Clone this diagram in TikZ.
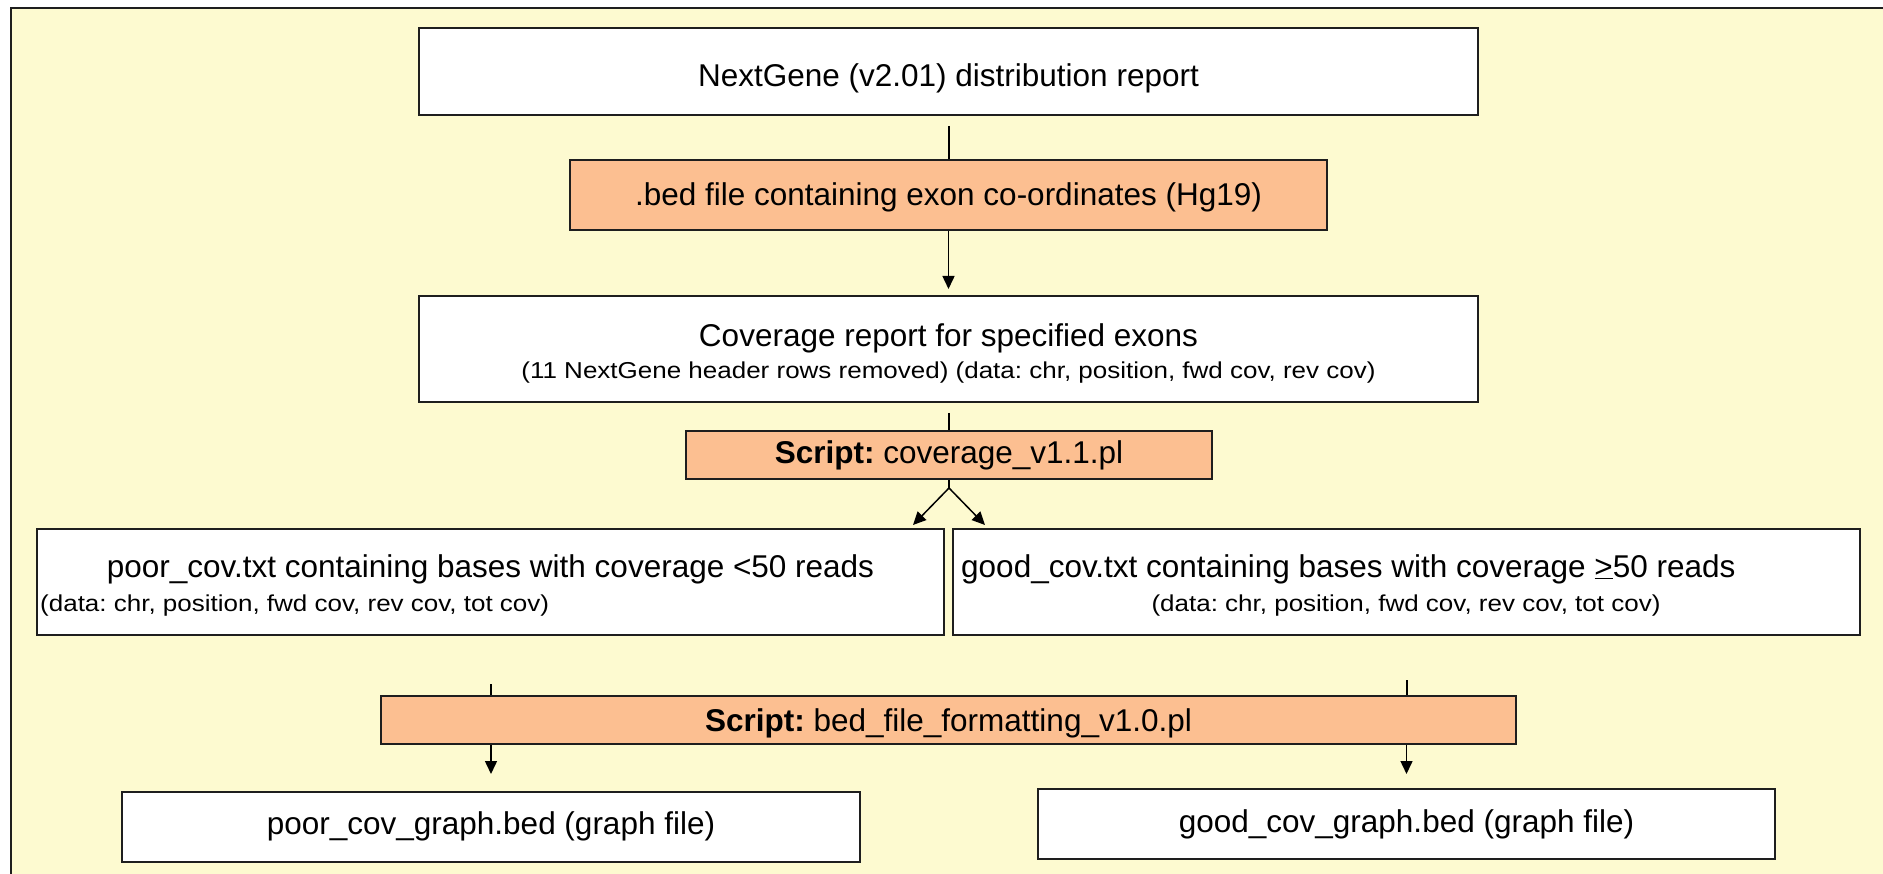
\documentclass[tikz,border=0pt]{standalone}
\usepackage{fontspec}
\setmainfont{Liberation Sans}
\newfontfamily\widesans[FakeStretch=1.13]{Liberation Sans}
\usetikzlibrary{arrows.meta}
\definecolor{bgyellow}{RGB}{253,250,208}
\definecolor{orangefill}{RGB}{252,191,145}
\definecolor{edgegray}{RGB}{30,30,30}
\frenchspacing
\begin{document}
\begin{tikzpicture}[x=1pt,y=-1pt,
  box/.style={draw=edgegray, line width=2pt, fill=white, inner sep=0pt, anchor=center},
  orangebox/.style={box, fill=orangefill},
  big/.style={font=\fontsize{31.5}{37}\selectfont},
  small/.style={font=\widesans\fontsize{23}{27}\selectfont},
  txt/.style={inner sep=0pt, anchor=base},
  conn/.style={draw=black, line width=1.5pt},
  arr/.style={conn, -{Triangle[length=13pt,width=12pt]}}]
\useasboundingbox (0,0) rectangle (1883,874);
\fill[white] (0,0) rectangle (1883,874);
\draw[fill=bgyellow, draw=edgegray, line width=2pt] (11,8) rectangle (1900,900);

% boxes
\node[box, minimum width=1059pt, minimum height=87pt] (n1) at (948.5,71.5) {};
\node[orangebox, minimum width=757pt, minimum height=70pt] (bed) at (948.5,195) {};
\node[box, minimum width=1059pt, minimum height=106pt] (cov) at (948.5,349) {};
\node[orangebox, minimum width=526pt, minimum height=48pt] (s1) at (949,455) {};
\node[box, minimum width=907pt, minimum height=106pt] (poor) at (490.5,582) {};
\node[box, minimum width=907pt, minimum height=106pt] (good) at (1406.5,582) {};
\node[orangebox, minimum width=1135pt, minimum height=48pt] (s2) at (948.5,720) {};
\node[box, minimum width=738pt, minimum height=70pt] (pg) at (491,827) {};
\node[box, minimum width=737pt, minimum height=70pt] (gg) at (1406.5,824) {};

% texts
\node[txt, big] (n1t) at (948.5,87) {NextGene (v2.01) distribution report};
\node[txt, big] (bedt) at (948.5,206) {.bed file containing exon co-ordinates (Hg19)};
\node[txt, big] (covA) at (948.5,347) {Coverage report for specified exons};
\node[txt, small] (covB) at (948.5,379) {(11 NextGene header rows removed) (data: chr, position, fwd cov, rev cov)};
\node[txt, big] (s1t) at (949,464) {\textbf{Script:} coverage\_v1.1.pl};
\node[txt, big] (poorA) at (490.5,577) {poor\_cov.txt containing bases with coverage <50 reads};
\node[txt, small, anchor=base west] (poorB) at (40,611) {(data: chr, position, fwd cov, rev cov, tot cov)};
\node[txt, big, anchor=base west] (goodA) at (961,577) {good\_cov.txt containing bases with coverage \underline{>}50 reads};
\node[txt, small] (goodB) at (1406,611) {(data: chr, position, fwd cov, rev cov, tot cov)};
\node[txt, big] (s2t) at (948.5,731) {\textbf{Script:} bed\_file\_formatting\_v1.0.pl};
\node[txt, big] (pgt) at (491,834) {poor\_cov\_graph.bed (graph file)};
\node[txt, big] (ggt) at (1406.5,832) {good\_cov\_graph.bed (graph file)};

% connector points
\coordinate (c1) at (949,126);
\coordinate (c2) at (949,413);
\coordinate (c3) at (949,488);
\coordinate (c4) at (491,684);
\coordinate (c5) at (1407,680);

% connectors
\draw[conn] (c1) -- (c1 |- bed.north);
\draw[arr, shorten >=6pt] (bed.south) -- (cov.north);
\draw[conn] (c2) -- (c2 |- s1.north);
\draw[conn] (s1.south) -- (c3);
\draw[arr] (c3) -- ([xshift=-32pt,yshift=3pt]poor.north east);
\draw[arr] (c3) -- ([xshift=33pt,yshift=3pt]good.north west);
\draw[conn] (c4) -- (c4 |- s2.north);
\draw[conn] (c5) -- (c5 |- s2.north);
\draw[arr, shorten >=17pt] (pg.north |- s2.south) -- (pg.north);
\draw[arr, shorten >=14pt] (gg.north |- s2.south) -- (gg.north);
\end{tikzpicture}
\end{document}
